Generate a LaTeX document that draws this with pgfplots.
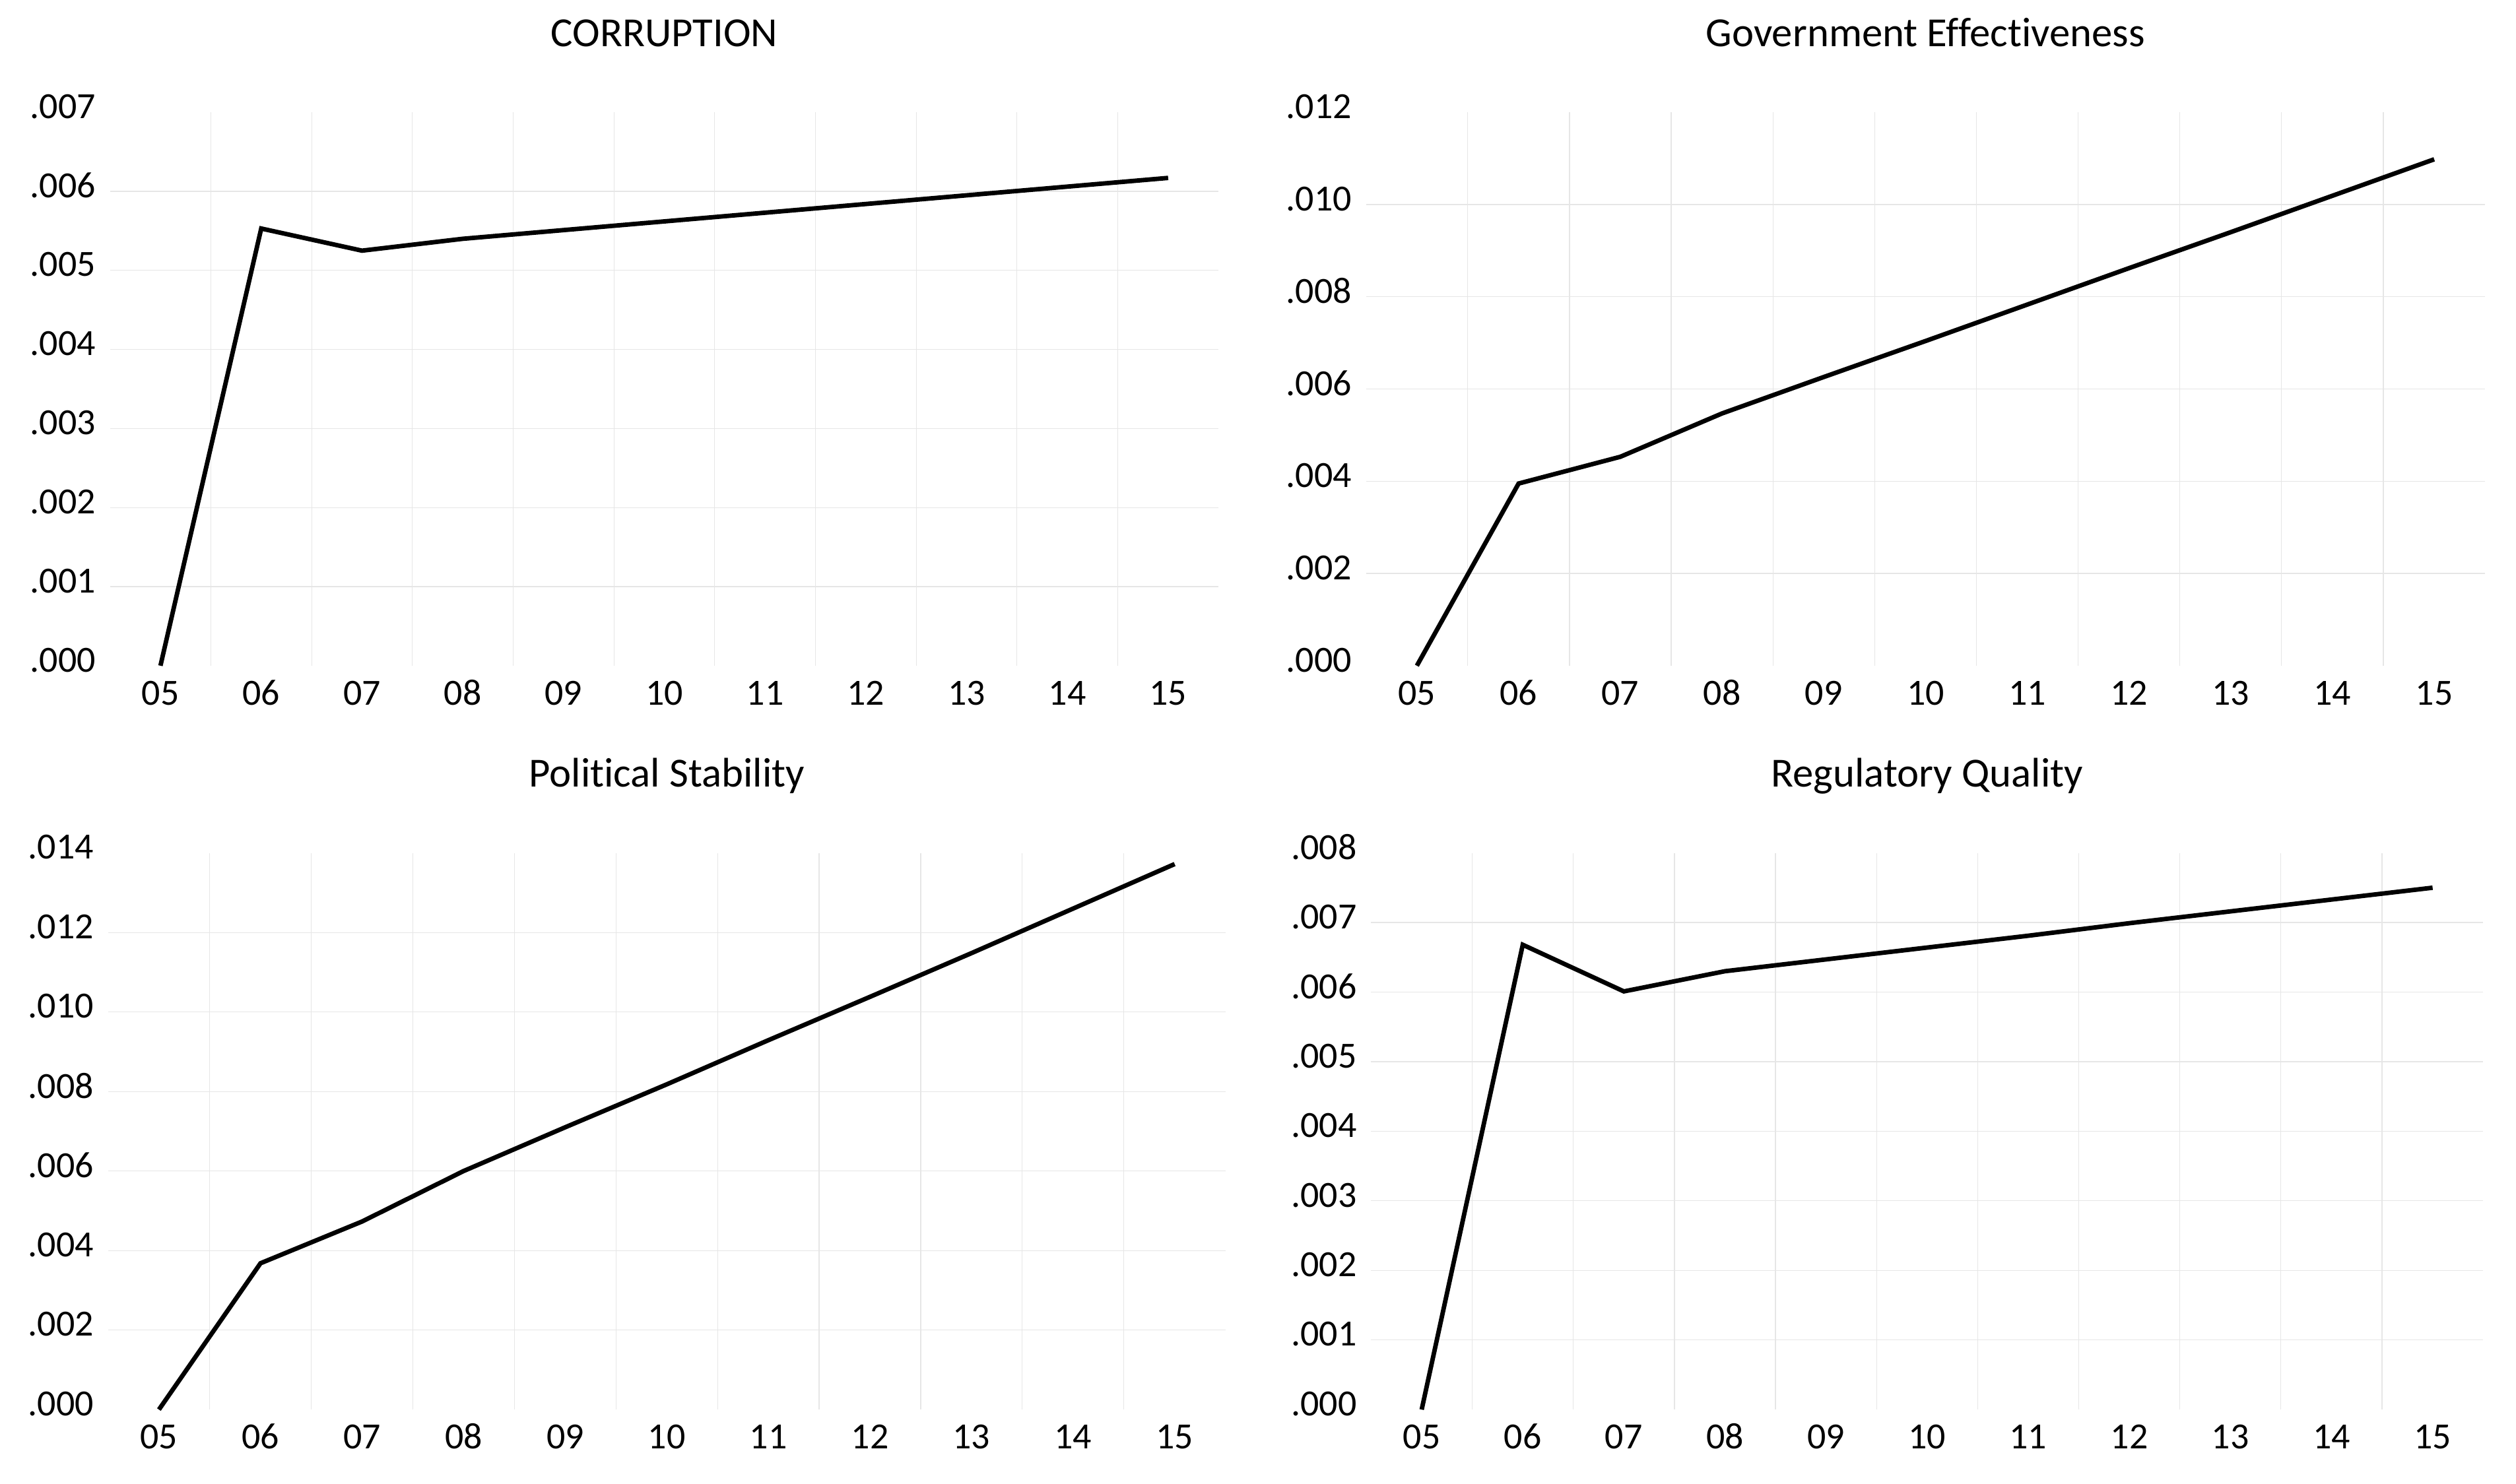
\documentclass[border=0pt]{standalone}
\usepackage{pgfplots}
\pgfplotsset{compat=1.18}
\usepackage{fontspec}
\setmainfont[Ligatures=NoCommon]{Carlito}
\definecolor{gridgray}{HTML}{E6E6E6}
\pgfplotsset{
  evstyle/.style={
    scale only axis,
    anchor=south west,
    xmin=-0.5, xmax=10.5,
    xtick={0,...,10},
    xticklabels={05,06,07,08,09,10,11,12,13,14,15},
    minor xtick={0.5,1.5,...,9.5},
    xminorgrids=true,
    xmajorgrids=false,
    ymajorgrids=false,
    yminorgrids=true,
    scaled y ticks=false,
    axis line style={draw=none},
    major tick length=0pt,
    minor tick length=0pt,
    tick style={draw=none},
    minor grid style={gridgray, line width=0.25pt},
    tick label style={font=\fontsize{11.5}{13}\selectfont},
    xticklabel style={anchor=base, yshift=-12.2pt},
    yticklabel style={anchor=east, inner sep=0pt, xshift=-4.3pt, yshift=1.8pt},
    title style={font=\fontsize{12.9}{15}\selectfont, anchor=base, at={(0.5,1)}, yshift=14.5pt},
    clip=false,
  },
  evline/.style={black, line width=1.4pt, mark=none}
}
\begin{document}
\begin{tikzpicture}
\useasboundingbox (0,0) rectangle (784pt,462.5pt);

% CORRUPTION
\begin{axis}[evstyle, at={(34.3pt,255pt)}, width=345.4pt, height=172.5pt,
  title={CORRUPTION},
  ymin=0, ymax=0.007,
  ytick={0,0.001,0.002,0.003,0.004,0.005,0.006,0.007},
  yticklabels={.000,.001,.002,.003,.004,.005,.006,.007},
  minor ytick={0.001,0.002,0.003,0.004,0.005,0.006}]
\addplot[evline] coordinates {(0,0) (1,0.00553) (2,0.00525) (3,0.00540) (4,0.00551) (5,0.00562) (6,0.00573) (7,0.00584) (8,0.00595) (9,0.00606) (10,0.00617)};
\end{axis}

% Government Effectiveness
\begin{axis}[evstyle, at={(425.65pt,255pt)}, width=348.7pt, height=172.5pt,
  title={Government Effectiveness},
  ymin=0, ymax=0.012,
  ytick={0,0.002,0.004,0.006,0.008,0.010,0.012},
  yticklabels={.000,.002,.004,.006,.008,.010,.012},
  minor ytick={0.002,0.004,0.006,0.008,0.010}]
\addplot[evline] coordinates {(0,0) (1,0.00395) (2,0.00453) (3,0.00547) (4,0.00626) (5,0.00704) (6,0.00783) (7,0.00862) (8,0.00940) (9,0.01019) (10,0.01098)};
\end{axis}

% Political Stability
\begin{axis}[evstyle, at={(33.7pt,23.15pt)}, width=348.15pt, height=173.5pt,
  title={Political Stability},
  ymin=0, ymax=0.014,
  ytick={0,0.002,0.004,0.006,0.008,0.010,0.012,0.014},
  yticklabels={.000,.002,.004,.006,.008,.010,.012,.014},
  minor ytick={0.002,0.004,0.006,0.008,0.010,0.012}]
\addplot[evline] coordinates {(0,0) (1,0.00368) (2,0.00473) (3,0.00600) (4,0.00710) (5,0.00818) (6,0.00929) (7,0.01038) (8,0.01148) (9,0.01260) (10,0.01372)};
\end{axis}

% Regulatory Quality
\begin{axis}[evstyle, at={(427.25pt,23.15pt)}, width=346.5pt, height=173.5pt,
  title={Regulatory Quality},
  ymin=0, ymax=0.008,
  ytick={0,0.001,0.002,0.003,0.004,0.005,0.006,0.007,0.008},
  yticklabels={.000,.001,.002,.003,.004,.005,.006,.007,.008},
  minor ytick={0.001,0.002,0.003,0.004,0.005,0.006,0.007}]
\addplot[evline] coordinates {(0,0) (1,0.00668) (2,0.00601) (3,0.00630) (4,0.00647) (5,0.00664) (6,0.00681) (7,0.00699) (8,0.00716) (9,0.00733) (10,0.00750)};
\end{axis}
\end{tikzpicture}
\end{document}
